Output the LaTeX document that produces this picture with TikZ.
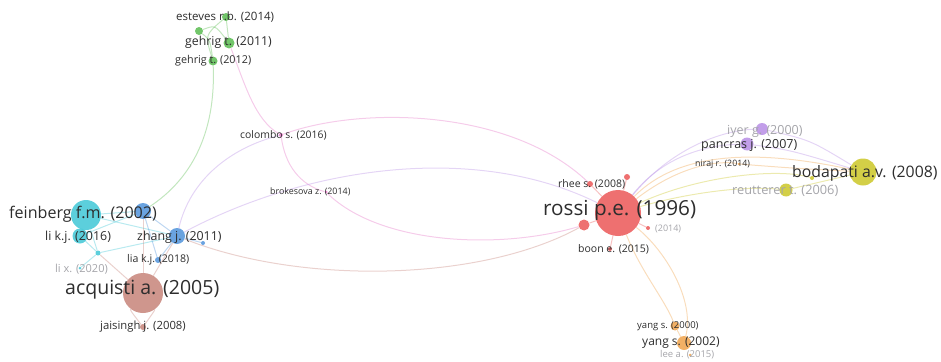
\documentclass[tikz,border=0pt]{standalone}
\usepackage{fontspec}
\setmainfont{Open Sans}
\usetikzlibrary{backgrounds}
\definecolor{vgreen}{RGB}{95,190,85}
\definecolor{vcyan}{RGB}{70,200,215}
\definecolor{vblue}{RGB}{85,150,220}
\definecolor{vbrown}{RGB}{200,135,125}
\definecolor{vred}{RGB}{236,92,92}
\definecolor{vpurple}{RGB}{185,145,230}
\definecolor{volive}{RGB}{205,200,45}
\definecolor{vorange}{RGB}{240,165,80}
\definecolor{vpink}{RGB}{230,120,200}
\definecolor{vtext}{RGB}{45,45,45}
\definecolor{vfaint}{RGB}{165,165,170}
\newcommand{\fs}[1]{\fontsize{#1}{#1}\selectfont}

\begin{document}
\begin{tikzpicture}[x=1pt,y=-1pt,
  bub/.style={circle,inner sep=0pt,fill opacity=0.88},
  lbl/.style={text=vtext,inner sep=0pt,anchor=west},
  link/.style={line width=1pt,draw opacity=0.38}]
  \useasboundingbox (0,0) rectangle (941,361);
   % green cluster
   \begin{scope}
    \node[bub,fill=vgreen,minimum size=8] (esteves) at (226,17) {};
    \node[bub,fill=vgreen,minimum size=8] (schaub) at (199,31) {};
    \node[bub,fill=vgreen,minimum size=11] (gehrigA) at (229,43) {};
    \node[bub,fill=vgreen,minimum size=9] (gehrigB) at (213,61) {};
    \node[lbl,font=\fs{11.5}] at (176,17) {esteves r.b. (2014)};
    \node[lbl,font=\fs{12.3}] at (185,42) {gehrig t. (2011)};
    \node[lbl,font=\fs{10.8}] at (175,61) {gehrig t. (2012)};
   \end{scope}
   % middle
   \begin{scope}
    \node[bub,fill=vpink,minimum size=4] (colombo) at (281,135) {};
    \node[bub,fill=vpink,minimum size=3] (brokesova) at (326,192) {};
    \node[lbl,font=\fs{10.4}] at (240,135) {colombo s. (2016)};
    \node[lbl,font=\fs{8.9}] at (270,192) {brokesova z. (2014)};
   \end{scope}
   % left cluster
   \begin{scope}
    \node[bub,fill=vcyan,minimum size=30] (feinberg) at (86,215) {};
    \node[bub,fill=vblue,minimum size=16] (blueA) at (143,211) {};
    \node[bub,fill=vblue,minimum size=16] (zhang) at (177,236) {};
    \node[bub,fill=vblue,minimum size=4] (blueB) at (203,243) {};
    \node[bub,fill=vcyan,minimum size=15] (likj) at (80,236) {};
    \node[bub,fill=vcyan,minimum size=5] (amato) at (98,253) {};
    \node[bub,fill=vblue,minimum size=6] (liakj) at (158,260) {};
    \node[bub,fill=vcyan,minimum size=3] (lix) at (80,268) {};
    \node[bub,fill=vbrown,minimum size=40] (acquisti) at (143,293) {};
    \node[bub,fill=vbrown,minimum size=6] (jaisingh) at (143,327) {};
    \node[lbl,font=\fs{16.1}] at (9,214) {feinberg f.m. (2002)};
    \node[lbl,font=\fs{12.4}] at (45,237) {li k.j. (2016)};
    \node[lbl,font=\fs{12.4}] at (137,237) {zhang j. (2011)};
    \node[lbl,font=\fs{10.6}] at (127,260) {lia k.j. (2018)};
    \node[lbl,font=\fs{11},text=vfaint] at (55,269) {li x. (2020)};
    \node[lbl,font=\fs{19.5}] at (65,290) {acquisti a. (2005)};
    \node[lbl,font=\fs{11.3}] at (100,327) {jaisingh j. (2008)};
   \end{scope}
   % rossi cluster
   \begin{scope}
    \node[bub,fill=vred,minimum size=46] (rossi) at (618,213) {};
    \node[bub,fill=vred,minimum size=6] (rhee) at (590,184) {};
    \node[bub,fill=vred,minimum size=6] (redA) at (627,177) {};
    \node[bub,fill=vred,minimum size=11] (redB) at (584,225) {};
    \node[bub,fill=vred,minimum size=4] (redC) at (648,228) {};
    \node[bub,fill=vred,minimum size=4] (boon) at (610,249) {};
    \node[lbl,font=\fs{20.7}] at (543,210) {rossi p.e. (1996)};
    \node[lbl,font=\fs{10.5}] at (558,184) {rhee s. (2008)};
    \node[lbl,font=\fs{9},text=vfaint] at (655,229) {(2014)};
    \node[lbl,font=\fs{10.5}] at (578,249) {boon e. (2015)};
   \end{scope}
   % right clusters
   \begin{scope}
    \node[bub,fill=vpurple,minimum size=12] (iyer) at (762,129) {};
    \node[bub,fill=vpurple,minimum size=13] (pancras) at (747,144) {};
    \node[bub,fill=vorange,minimum size=3] (niraj) at (739,164) {};
    \node[bub,fill=volive,minimum size=27] (bodapati) at (863,172) {};
    \node[bub,fill=volive,minimum size=4] (oliveA) at (812,178) {};
    \node[bub,fill=volive,minimum size=13] (reutterer) at (786,190) {};
    \node[bub,fill=vorange,minimum size=9] (yangA) at (675,326) {};
    \node[bub,fill=vorange,minimum size=14] (yangB) at (684,343) {};
    \node[bub,fill=vorange,minimum size=3] (lee) at (690,355) {};
    \node[lbl,font=\fs{12.5},text=vfaint] at (727,131) {iyer g. (2000)};
    \node[lbl,font=\fs{12.5}] at (701,145) {pancras j. (2007)};
    \node[lbl,font=\fs{8.8}] at (695,164) {niraj r. (2014)};
    \node[lbl,font=\fs{15.8}] at (792,173) {bodapati a.v. (2008)};
    \node[lbl,font=\fs{12.8},text=vfaint] at (732,191) {reutterer t. (2006)};
    \node[lbl,font=\fs{9.5}] at (637,326) {yang s. (2000)};
    \node[lbl,font=\fs{12}] at (642,343) {yang s. (2002)};
    \node[lbl,font=\fs{9.5},text=vfaint] at (660,355) {lee a. (2015)};
   \end{scope}
   % links
   \begin{scope}[on background layer]
    \draw[link,vgreen] (gehrigB) .. controls (216,135) and (190,180) .. (blueA);
    \draw[link,vgreen] (schaub) .. controls (210,40) .. (gehrigB);
    \draw[link,vgreen] (esteves) -- (gehrigA);
    \draw[link,vgreen] (schaub) .. controls (215,25) .. (gehrigA);
    \draw[link,vgreen] (esteves) .. controls (205,35) .. (gehrigB);
    \draw[link,vpink] (gehrigA) .. controls (245,85) and (255,120) .. (colombo);
    \draw[link,vpink] (colombo) .. controls (285,165) and (300,185) .. (brokesova);
    \draw[link,vpink] (colombo) .. controls (360,106) and (510,108) .. (rhee);
    \draw[link,vpurple] (zhang) .. controls (190,180) and (230,148) .. (colombo);
    \draw[link,vpurple] (zhang) .. controls (300,170) and (470,140) .. (rossi);
    \draw[link,vpink] (brokesova) .. controls (380,245) and (500,250) .. (redB);
    \draw[link,vbrown] (zhang) .. controls (300,285) and (480,282) .. (redB);
    \draw[link,vcyan] (feinberg) -- (blueA);
    \draw[link,vcyan] (feinberg) -- (zhang);
    \draw[link,vcyan] (feinberg) -- (likj);
    \draw[link,vcyan] (feinberg) -- (amato);
    \draw[link,vcyan] (likj) -- (amato);
    \draw[link,vcyan] (amato) -- (lix);
    \draw[link,vcyan] (amato) -- (zhang);
    \draw[link,vcyan] (likj) -- (blueA);
    \draw[link,vblue] (blueA) -- (zhang);
    \draw[link,vblue] (blueA) -- (liakj);
    \draw[link,vblue] (zhang) -- (blueB);
    \draw[link,vblue] (zhang) -- (liakj);
    \draw[link,vbrown] (acquisti) -- (blueA);
    \draw[link,vbrown] (acquisti) -- (zhang);
    \draw[link,vbrown] (acquisti) -- (amato);
    \draw[link,vbrown] (acquisti) .. controls (130,310) .. (jaisingh);
    \draw[link,vbrown] (acquisti) .. controls (155,310) .. (jaisingh);
    \draw[link,vred] (rossi) -- (rhee);
    \draw[link,vred] (rossi) -- (redA);
    \draw[link,vred] (rossi) -- (redB);
    \draw[link,vred] (rossi) -- (redC);
    \draw[link,vred] (rossi) -- (boon);
    \draw[link,vorange] (rossi) .. controls (680,150) and (760,150) .. (bodapati);
    \draw[link,vorange] (rossi) .. controls (680,165) and (720,160) .. (niraj);
    \draw[link,vpurple] (rossi) .. controls (660,160) and (700,145) .. (pancras);
    \draw[link,vpurple] (rossi) .. controls (670,150) and (720,130) .. (iyer);
    \draw[link,volive] (rossi) .. controls (680,195) and (740,185) .. (reutterer);
    \draw[link,volive] (rossi) .. controls (700,175) and (780,168) .. (oliveA);
    \draw[link,vpurple] (pancras) .. controls (790,150) .. (bodapati);
    \draw[link,vpurple] (iyer) .. controls (810,140) .. (bodapati);
    \draw[link,volive] (reutterer) -- (bodapati);
    \draw[link,vorange] (niraj) .. controls (790,168) .. (bodapati);
    \draw[link,vorange] (rossi) .. controls (640,270) and (665,300) .. (yangA);
    \draw[link,vorange] (rossi) .. controls (665,250) and (695,300) .. (yangB);
    \draw[link,vorange] (yangA) -- (yangB);
   \end{scope}
  \end{tikzpicture}
\end{document}
